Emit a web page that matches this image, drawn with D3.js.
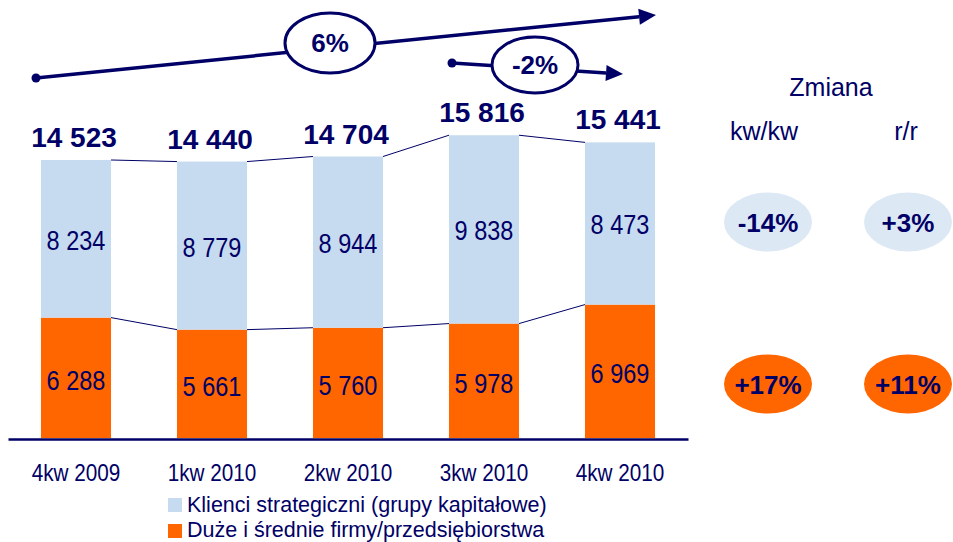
<!DOCTYPE html>
<html>
<head>
<meta charset="utf-8">
<script src="https://cdn.jsdelivr.net/npm/d3@7"></script>
<style>
  html, body { margin: 0; padding: 0; background: #fff; }
  svg { display: block; font-family: "Liberation Sans", Arial, sans-serif; }
</style>
</head>
<body>
<svg id="chart" width="953" height="542"></svg>
<script>
// ---- data ----
const categories = ["4kw 2009", "1kw 2010", "2kw 2010", "3kw 2010", "4kw 2010"];
const strategic  = [8234, 8779, 8944, 9838, 8473];
const midLarge   = [6288, 5661, 5760, 5978, 6969];
const totals     = [14523, 14440, 14704, 15816, 15441];
const seriesNames = ["Klienci strategiczni (grupy kapitałowe)", "Duże i średnie firmy/przedsiębiorstwa"];
const changeHeader = "Zmiana";
const changeCols = ["kw/kw", "r/r"];
const strategicChange = ["-14%", "+3%"];
const midLargeChange = ["+17%", "+11%"];
const growthLabels = ["6%", "-2%"];

// ---- style ----
const NAVY = "#000066";
const BLUE = "#c6dbef";
const ORANGE = "#ff6600";
const LIGHT = "#dde8f5";

const svg = d3.select("#chart");
const loc = d3.formatLocale({decimal: ",", thousands: " ", grouping: [3], currency: ["", ""]});
const fmt = loc.format(",d");

const x = d3.scaleBand().domain(categories).range([8, 688]).paddingInner(0.485).paddingOuter(0.2425);
const y = d3.scaleLinear().domain([0, 16000]).range([438, 131.7]);

const rows = categories.map((c, i) => ({c, s: strategic[i], m: midLarge[i], t: totals[i]}));

// bars
const g = svg.append("g");
g.selectAll("rect.mid").data(rows).join("rect")
  .attr("x", d => x(d.c)).attr("width", x.bandwidth())
  .attr("y", d => y(d.m)).attr("height", d => y(0) - y(d.m))
  .attr("fill", ORANGE);
g.selectAll("rect.str").data(rows).join("rect")
  .attr("x", d => x(d.c)).attr("width", x.bandwidth())
  .attr("y", d => y(d.m + d.s)).attr("height", d => y(d.m) - y(d.m + d.s))
  .attr("fill", BLUE);

// connector lines
for (let i = 0; i < rows.length - 1; i++) {
  const a = rows[i], b = rows[i + 1];
  g.append("line")
    .attr("x1", x(a.c) + x.bandwidth()).attr("y1", y(a.m + a.s))
    .attr("x2", x(b.c)).attr("y2", y(b.m + b.s))
    .attr("stroke", NAVY).attr("stroke-width", 1);
  g.append("line")
    .attr("x1", x(a.c) + x.bandwidth()).attr("y1", y(a.m))
    .attr("x2", x(b.c)).attr("y2", y(b.m))
    .attr("stroke", NAVY).attr("stroke-width", 1);
}

// axis baseline
const xAxis = d3.axisBottom(x).tickSize(0).tickPadding(0);
const ax = svg.append("g").attr("transform", "translate(0,439)").call(xAxis);
ax.select(".domain").attr("stroke", NAVY).attr("stroke-width", 2.5);
ax.selectAll(".tick text").remove();
ax.selectAll(".tick").append("text")
  .attr("transform", "translate(0,42) scale(0.9,1)")
  .attr("text-anchor", "middle")
  .attr("fill", NAVY).attr("font-size", 23)
  .text(d => d);

// inner value labels
g.selectAll("text.sv").data(rows).join("text")
  .attr("transform", d => `translate(${x(d.c) + x.bandwidth() / 2},${(y(d.m) + y(d.m + d.s)) / 2 + 11}) scale(0.84,1)`)
  .attr("text-anchor", "middle").attr("fill", NAVY).attr("font-size", 28)
  .text(d => fmt(d.s));
g.selectAll("text.mv").data(rows).join("text")
  .attr("transform", d => `translate(${x(d.c) + x.bandwidth() / 2},${(y(0) + y(d.m)) / 2 + 12}) scale(0.84,1)`)
  .attr("text-anchor", "middle").attr("fill", NAVY).attr("font-size", 28)
  .text(d => fmt(d.m));

// totals
g.selectAll("text.tv").data(rows).join("text")
  .attr("x", d => x(d.c) + x.bandwidth() / 2 - 2)
  .attr("y", d => y(d.m + d.s) - 13)
  .attr("text-anchor", "middle").attr("fill", NAVY)
  .attr("font-size", 28).attr("font-weight", "bold")
  .text(d => fmt(d.t));

// growth arrows
function arrow(x1, y1, x2, y2, cx, cy, rx, ry, label) {
  const ang = Math.atan2(y2 - y1, x2 - x1);
  const L = 17, W = 8;
  const bx = x2 - L * Math.cos(ang), by = y2 - L * Math.sin(ang);
  svg.append("line").attr("x1", x1).attr("y1", y1).attr("x2", bx).attr("y2", by)
    .attr("stroke", NAVY).attr("stroke-width", 3.5);
  svg.append("circle").attr("cx", x1).attr("cy", y1).attr("r", 4.5).attr("fill", NAVY);
  const pts = [[x2, y2],
    [bx + W * Math.sin(ang), by - W * Math.cos(ang)],
    [bx - W * Math.sin(ang), by + W * Math.cos(ang)]];
  svg.append("polygon").attr("points", pts.map(p => p.join(",")).join(" ")).attr("fill", NAVY);
  svg.append("ellipse").attr("cx", cx).attr("cy", cy).attr("rx", rx).attr("ry", ry)
    .attr("fill", "#fff").attr("stroke", NAVY).attr("stroke-width", 3);
  svg.append("text").attr("x", cx).attr("y", cy + 9).attr("text-anchor", "middle")
    .attr("fill", NAVY).attr("font-size", 26).attr("font-weight", "bold").text(label);
}
arrow(36, 78, 656, 15, 330, 43, 45, 30, growthLabels[0]);
arrow(452, 63, 623, 74, 535, 65, 43, 28, growthLabels[1]);

// change panel
svg.append("text").attr("x", 831).attr("y", 96).attr("text-anchor", "middle")
  .attr("fill", NAVY).attr("font-size", 25).text(changeHeader);
const colX = [768, 908];
changeCols.forEach((t, i) => {
  svg.append("text").attr("x", colX[i] - (i === 0 ? 4 : 2)).attr("y", 140).attr("text-anchor", "middle")
    .attr("fill", NAVY).attr("font-size", 25).text(t);
});
function badge(cx, cy, fill, label) {
  svg.append("ellipse").attr("cx", cx).attr("cy", cy).attr("rx", 44).attr("ry", 29.5).attr("fill", fill);
  svg.append("text").attr("x", cx).attr("y", cy + 9.5).attr("text-anchor", "middle")
    .attr("fill", NAVY).attr("font-size", 26).attr("font-weight", "bold").text(label);
}
strategicChange.forEach((t, i) => badge(colX[i], 222, LIGHT, t));
midLargeChange.forEach((t, i) => badge(colX[i], 384, ORANGE, t));

// legend
const legend = svg.append("g").attr("transform", "translate(168,498)");
[BLUE, ORANGE].forEach((c, i) => {
  const row = legend.append("g").attr("transform", `translate(0,${i * 26})`);
  row.append("rect").attr("width", 14).attr("height", 14).attr("fill", c);
  row.append("text").attr("x", 19).attr("y", 14 - i * 1).attr("fill", NAVY).attr("font-size", 21.5).text(seriesNames[i]);
});
</script>
</body>
</html>
